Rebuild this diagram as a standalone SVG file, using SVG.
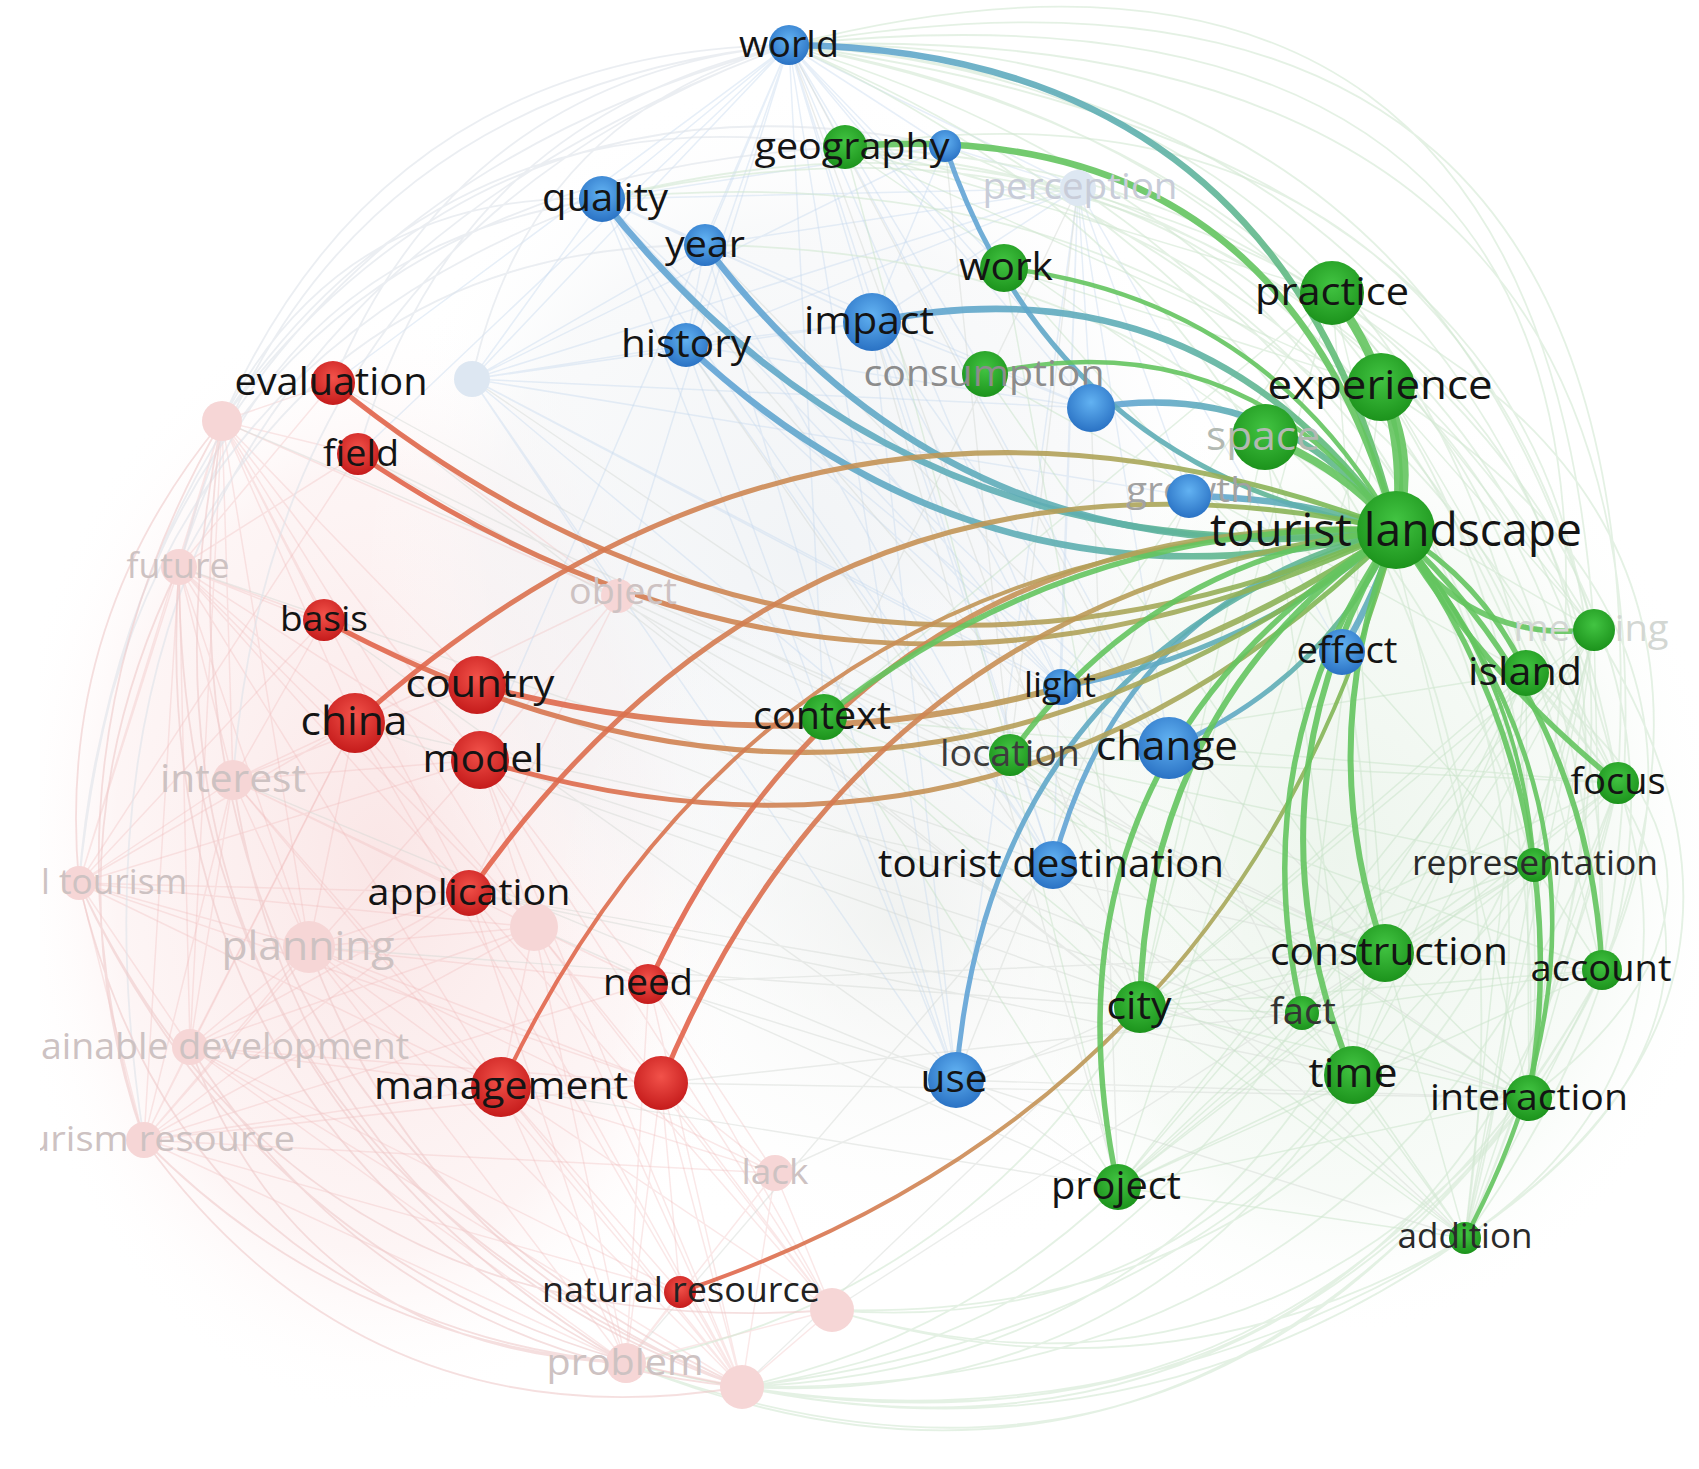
<svg xmlns="http://www.w3.org/2000/svg" width="1699" height="1469" viewBox="0 0 1699 1469">
<style>
.lbl{font-family:"Open Sans","DejaVu Sans",sans-serif;text-anchor:middle;fill:#141414}
.st{text-anchor:start}
.fd{fill:#cdc2c2}
.fb{fill:#c8ccd8}
.gy{fill:#8c8c8c}
.lg{fill:#b2b9b2}
.mp{fill:none;stroke:#efb9b9;stroke-width:1.5;opacity:0.32}
.mb{fill:none;stroke:#c2d6ee;stroke-width:1.5;opacity:0.4}
.mg{fill:none;stroke:#c4e1c4;stroke-width:1.5;opacity:0.45}
.mc{fill:none;stroke:#d3d8d3;stroke-width:1.4;opacity:0.45}
.ap{fill:none;stroke:#efcaca;stroke-width:1.8;opacity:0.6}
.ab{fill:none;stroke:#dde2ea;stroke-width:1.8;opacity:0.6}
.ag{fill:none;stroke:#d2e7d2;stroke-width:1.8;opacity:0.6}
.hb{fill:none;stroke:url(#lb);stroke-width:6.5;stroke-linecap:round;opacity:0.9}
.hr{fill:none;stroke:url(#lr);stroke-width:5;stroke-linecap:round;opacity:0.9}
.hg{fill:none;stroke:#64c45f;stroke-width:5.5;stroke-linecap:round;opacity:0.9}
.r{fill:url(#nr)}.g{fill:url(#ng)}.b{fill:url(#nb)}
.rf{fill:#f6d6d6}.bf{fill:#dde7f2}
</style>
<defs>
<clipPath id="cl"><rect x="40" y="0" width="1659" height="1469"/></clipPath>
<linearGradient id="lb" x1="0" y1="0" x2="1" y2="0"><stop offset="0" stop-color="#62a3d8"/><stop offset="0.55" stop-color="#5eafb0"/><stop offset="1" stop-color="#62c066"/></linearGradient>
<linearGradient id="lr" x1="0" y1="0" x2="1" y2="0"><stop offset="0" stop-color="#e4604a"/><stop offset="0.45" stop-color="#c98f55"/><stop offset="0.75" stop-color="#aaa75a"/><stop offset="1" stop-color="#6cbf55"/></linearGradient>
<radialGradient id="nr" cx="0.5" cy="0.38" r="0.62"><stop offset="0" stop-color="#f2524a"/><stop offset="1" stop-color="#c51b1b"/></radialGradient>
<radialGradient id="ng" cx="0.5" cy="0.38" r="0.62"><stop offset="0" stop-color="#42c442"/><stop offset="1" stop-color="#1c931c"/></radialGradient>
<radialGradient id="nb" cx="0.5" cy="0.38" r="0.62"><stop offset="0" stop-color="#62b2f2"/><stop offset="1" stop-color="#2a72c4"/></radialGradient>
<radialGradient id="hzp"><stop offset="0" stop-color="#f9e0e0" stop-opacity="0.8"/><stop offset="0.7" stop-color="#fbe9e9" stop-opacity="0.45"/><stop offset="1" stop-color="#ffffff" stop-opacity="0"/></radialGradient>
<radialGradient id="hzc"><stop offset="0" stop-color="#eef1f4" stop-opacity="0.8"/><stop offset="0.7" stop-color="#f1f3f5" stop-opacity="0.45"/><stop offset="1" stop-color="#ffffff" stop-opacity="0"/></radialGradient>
<radialGradient id="hzg"><stop offset="0" stop-color="#e9f3e9" stop-opacity="0.8"/><stop offset="0.7" stop-color="#eef6ee" stop-opacity="0.45"/><stop offset="1" stop-color="#ffffff" stop-opacity="0"/></radialGradient>
<radialGradient id="hzm"><stop offset="0" stop-color="#eef0ee" stop-opacity="0.8"/><stop offset="1" stop-color="#ffffff" stop-opacity="0"/></radialGradient>
</defs>
<rect width="1699" height="1469" fill="#ffffff"/>
<g clip-path="url(#cl)">
<g id="haze">
<ellipse cx="380" cy="860" rx="380" ry="560" fill="url(#hzp)"/>
<ellipse cx="800" cy="560" rx="440" ry="480" fill="url(#hzc)"/>
<ellipse cx="1340" cy="860" rx="390" ry="480" fill="url(#hzg)"/>
<ellipse cx="900" cy="920" rx="360" ry="360" fill="url(#hzm)"/>
</g>
<g id="connectors">
<g id="faint-links">
<path class="mp" d="M222 421L179 567M222 421L233 780M222 421L79 883M222 421L309 947M222 421L355 723M222 421L480 760M222 421L324 620M222 421L358 454M222 421L333 383M222 421L469 893M222 421L190 1047M222 421L534 927M222 421L477 685M222 421L618 596M222 421L649 983M179 567L79 883M179 567L233 780M179 567L309 947M179 567L190 1047M179 567L144 1140M179 567L355 723M179 567L480 760M179 567L469 893M179 567L324 620M179 567L358 454M179 567L534 927M179 567L501 1087M179 567L333 383M179 567L477 685"/>
<path class="mp" d="M79 883L233 780M79 883L309 947M79 883L190 1047M79 883L144 1140M79 883L355 723M79 883L469 893M79 883L501 1087M79 883L534 927M79 883L324 620M79 883L480 760M79 883L661 1083M79 883L358 454M144 1140L190 1047M144 1140L309 947M144 1140L501 1087M144 1140L680 1292M144 1140L661 1083M144 1140L469 893M144 1140L775 1173M144 1140L534 927M144 1140L233 780M144 1140L355 723M144 1140L649 983M144 1140L480 760M233 780L309 947M233 780L190 1047M233 780L469 893M233 780L355 723M233 780L480 760M233 780L534 927M233 780L501 1087M233 780L324 620M233 780L477 685"/>
<path class="mp" d="M742 1387L626 1363M742 1387L680 1292M742 1387L832 1310M742 1387L775 1173M742 1387L661 1083M742 1387L501 1087M742 1387L309 947M742 1387L190 1047M742 1387L469 893M742 1387L649 983M742 1387L534 927M742 1387L355 723M742 1387L480 760M742 1387L233 780M626 1363L680 1292M626 1363L501 1087M626 1363L661 1083M626 1363L309 947M626 1363L190 1047M626 1363L469 893M626 1363L775 1173M626 1363L832 1310M626 1363L534 927M626 1363L649 983M626 1363L144 1140M832 1310L775 1173M832 1310L661 1083M832 1310L649 983M832 1310L534 927M832 1310L501 1087M832 1310L469 893M832 1310L480 760"/>
<path class="mp" d="M309 947L190 1047M309 947L469 893M309 947L501 1087M309 947L534 927M309 947L661 1083M309 947L355 723M309 947L649 983M309 947L775 1173M190 1047L501 1087M190 1047L469 893M190 1047L534 927M190 1047L661 1083M190 1047L680 1292M190 1047L355 723M534 927L649 983M534 927L661 1083M534 927L501 1087M534 927L480 760M534 927L355 723M775 1173L661 1083M775 1173L501 1087M775 1173L649 983M680 1292L501 1087M680 1292L661 1083M618 596L333 383M618 596L480 760M618 596L355 723M618 596L469 893"/>
<path class="mb" d="M789 45L472 379M789 45L686 345M789 45L602 199M789 45L705 245M789 45L872 322M789 45L1091 408M789 45L618 596M789 45L1189 496M789 45L824 717M789 45L945 146M789 45L1078 188M789 45L1004 268M789 45L985 374M789 45L1061 687M789 45L1053 865M789 45L956 1080M789 45L1169 748M789 45L333 383M789 45L358 454M789 45L480 760"/>
<path class="mb" d="M472 379L602 199M472 379L686 345M472 379L705 245M472 379L872 322M472 379L1091 408M472 379L1078 188M472 379L945 146M472 379L1061 687M472 379L1053 865M472 379L956 1080M472 379L1189 496M472 379L1169 748M472 379L618 596M1078 188L602 199M1078 188L686 345M1078 188L705 245M1078 188L872 322M1078 188L1091 408M1078 188L1189 496M1078 188L1061 687M1078 188L1053 865M1078 188L956 1080M1078 188L1169 748M1078 188L945 146M1078 188L1342 652"/>
<path class="mb" d="M602 199L686 345M602 199L705 245M602 199L872 322M602 199L1091 408M602 199L945 146M602 199L1061 687M602 199L956 1080M602 199L1053 865M602 199L1169 748M686 345L705 245M686 345L872 322M686 345L1091 408M686 345L1061 687M686 345L1053 865M686 345L956 1080M686 345L1169 748M872 322L1091 408M872 322L1061 687M872 322L1053 865M872 322L956 1080M872 322L945 146M872 322L1169 748M705 245L872 322M705 245L1061 687M705 245L1053 865M705 245L956 1080"/>
<path class="mc" d="M333 383L1140 1007M355 723L1353 1075M480 760L1529 1098M469 893L1140 1007M477 685L1302 1013M358 454L1385 953M324 620L1118 1187M649 983L1385 953M661 1083L1302 1013M501 1087L1118 1187M618 596L1385 953M618 596L1140 1007M686 345L1140 1007M602 199L1302 1013M705 245L1385 953M872 322L1118 1187M472 379L1529 1098M1078 188L824 717M1078 188L1010 755M945 146L1010 755M789 45L1140 1007M789 45L1302 1013M1091 408L1118 1187M1189 496L956 1080M956 1080L1385 953M956 1080L1529 1098M1053 865L1465 1238M661 1083L1529 1098M649 983L1465 1238M469 893L1353 1075M355 723L1385 953M333 383L1010 755M358 454L824 717M222 421L1010 755M179 567L1053 865M233 780L956 1080M309 947L1140 1007M534 927L1118 1187M775 1173L1140 1007M832 1310L1385 953M742 1387L1140 1007M626 1363L1053 865"/>
<path class="mg" d="M1594 630L1385 953M1594 630L1302 1013M1594 630L1353 1075M1594 630L1140 1007M1594 630L1118 1187M1594 630L1529 1098M1594 630L1465 1238M1594 630L1534 865M1594 630L1602 970M1594 630L1332 293M1594 630L1381 387M1594 630L1265 437M1618 783L1385 953M1618 783L1302 1013M1618 783L1353 1075M1618 783L1140 1007M1618 783L1118 1187M1618 783L1465 1238M1618 783L1529 1098M1618 783L1526 673M1618 783L1332 293M1618 783L1010 755M1618 783L824 717M1602 970L1385 953M1602 970L1302 1013M1602 970L1140 1007M1602 970L1118 1187M1602 970L1526 673M1602 970L1534 865M1602 970L1010 755M1602 970L1465 1238"/>
<path class="mg" d="M1465 1238L1385 953M1465 1238L1302 1013M1465 1238L1140 1007M1465 1238L1118 1187M1465 1238L1353 1075M1465 1238L1534 865M1465 1238L1526 673M1465 1238L1010 755M1465 1238L824 717M1529 1098L1385 953M1529 1098L1302 1013M1529 1098L1140 1007M1529 1098L1118 1187M1529 1098L1526 673M1529 1098L1010 755M1529 1098L1332 293M1526 673L1385 953M1526 673L1302 1013M1526 673L1140 1007M1526 673L1118 1187M1526 673L1353 1075M1526 673L1010 755M1534 865L1385 953M1534 865L1140 1007M1534 865L1118 1187M1534 865L1302 1013M1534 865L1010 755"/>
<path class="mg" d="M1332 293L1385 953M1332 293L1140 1007M1332 293L1010 755M1332 293L824 717M1381 387L1302 1013M1381 387L1118 1187M1265 437L1353 1075M1265 437L1140 1007M845 147L1332 293M845 147L1381 387M845 147L1265 437M1004 268L1381 387M1004 268L1534 865M985 374L1526 673M985 374L1385 953M1004 268L1140 1007M845 147L1010 755M1385 953L1118 1187M1353 1075L1118 1187M1302 1013L1118 1187M1140 1007L1302 1013M1385 953L1140 1007M824 717L1140 1007M824 717L1118 1187M1010 755L1118 1187M824 717L1385 953M1010 755L1353 1075"/>
<path class="ab" d="M222 421Q384 50 789 45M179 567Q302 93 789 45M79 883Q144 218 789 45M333 383Q460 77 789 45M222 421Q445 83 845 147M222 421Q341 189 602 199M179 567Q272 247 602 199M233 780Q272 232 789 45M358 454Q450 119 789 45M222 421Q495 50 945 146M179 567Q343 244 705 245M472 379Q529 116 789 45M79 883Q118 371 602 199M79 883Q143 183 845 147M144 1140Q18 329 789 45"/>
<path class="ag" d="M789 45Q1415 30 1594 630M789 45Q1490 93 1618 783M789 45Q1556 191 1602 970M789 45Q1480 166 1534 865M789 45Q1568 284 1529 1098M789 45Q1588 380 1465 1238M789 45Q1391 85 1526 673M602 199Q1257 48 1594 630M845 147Q1533 274 1602 970M845 147Q1473 172 1618 783M945 146Q1595 402 1529 1098M1078 188Q1647 575 1465 1238M1078 188Q1623 390 1602 970M602 199Q1319 127 1618 783M789 45Q1457 349 1353 1075M705 245Q1347 251 1534 865"/>
<path class="ag" d="M789 45Q1766 6 1602 970M789 45Q1910 198 1465 1238M845 147Q1885 278 1465 1238M1594 630Q1823 996 1465 1238M1618 783Q1712 1068 1465 1238M1526 673Q1808 886 1529 1098M1526 673Q1834 992 1465 1238M1332 293Q1783 506 1602 970M1381 387Q1827 665 1529 1098M789 45Q1544 -148 1594 630M789 45Q1669 -109 1618 783M789 45Q1724 -56 1534 865M1332 293Q1854 702 1465 1238M845 147Q1436 53 1594 630M602 199Q1274 27 1526 673"/>
<path class="ag" d="M1465 1238Q1136 1469 742 1387M1529 1098Q1225 1487 742 1387M1529 1098Q1250 1434 832 1310M1353 1075Q1139 1409 742 1387M1602 970Q1320 1485 742 1387M1602 970Q1256 1600 626 1363M1618 783Q1396 1398 742 1387M1534 865Q1333 1324 832 1310M1465 1238Q1072 1479 626 1363M1385 953Q1198 1369 742 1387M1594 630Q1434 1308 742 1387M1118 1187Q958 1340 742 1387M1529 1098Q1162 1580 626 1363M1353 1075Q1158 1338 832 1310M1618 783Q1464 1497 742 1387M1465 1238Q1164 1413 832 1310M1302 1013Q1100 1340 742 1387M1140 1007Q960 1300 626 1363"/>
<path class="ap" d="M79 883Q181 1319 626 1363M144 1140Q367 1448 742 1387M179 567Q180 1169 742 1387M222 421Q93 1034 626 1363M233 780Q304 1238 742 1387M190 1047Q382 1353 742 1387M222 421Q24 763 144 1140M222 421Q55 622 79 883M179 567Q42 846 144 1140M179 567Q141 1112 626 1363M79 883Q277 1310 742 1387M144 1140Q343 1342 626 1363M309 947Q426 1265 742 1387M190 1047Q302 1351 626 1363M79 883Q300 1350 832 1310M222 421Q130 1094 742 1387"/>
</g>
<g id="highlight-links">
<path class="hb" d="M789 45Q1281 50 1396 530"/>
<path class="hb" d="M602 199Q907 586 1396 530"/>
<path class="hb" d="M705 245Q966 591 1396 530"/>
<path class="hb" d="M686 345Q991 631 1396 530"/>
<path class="hb" d="M872 322Q1202 255 1396 530"/>
<path class="hb" d="M1091 408Q1281 376 1396 530"/>
<path class="hb" d="M945 146Q1056 472 1396 530" style="stroke-width:5"/>
<path class="hb" d="M1189 496Q1295 497 1396 530"/>
<path class="hb" d="M1342 652Q1380 585 1396 530"/>
<path class="hb" d="M1061 687Q1250 654 1396 530" style="stroke-width:5"/>
<path class="hb" d="M1169 748Q1324 682 1396 530" style="stroke-width:5"/>
<path class="hb" d="M1053 865Q1124 594 1396 530" style="stroke-width:5"/>
<path class="hb" d="M956 1080Q989 655 1396 530" style="stroke-width:5"/>
<path class="hr" d="M333 383Q820 777 1396 530"/>
<path class="hr" d="M358 454Q855 791 1396 530"/>
<path class="hr" d="M324 620Q889 924 1396 530"/>
<path class="hr" d="M477 685Q972 815 1396 530" style="stroke-width:6"/>
<path class="hr" d="M480 760Q1006 917 1396 530"/>
<path class="hr" d="M355 723Q817 308 1396 530"/>
<path class="hr" d="M469 893Q812 404 1396 530"/>
<path class="hr" d="M649 983Q870 505 1396 530"/>
<path class="hr" d="M661 1083Q864 588 1396 530"/>
<path class="hr" d="M501 1087Q769 520 1396 530" style="stroke-width:4"/>
<path class="hr" d="M680 1292Q1242 1103 1396 530" style="stroke-width:4"/>
<path class="hg" d="M845 147Q1280 109 1396 530" style="stroke-width:6.5"/>
<path class="hg" d="M1004 268Q1267 299 1396 530" style="stroke-width:4.5"/>
<path class="hg" d="M985 374Q1242 317 1396 530" style="stroke-width:4.5"/>
<path class="hg" d="M1332 293Q1412 399 1396 530" style="stroke-width:9"/>
<path class="hg" d="M1381 387Q1418 455 1396 530" style="stroke-width:9"/>
<path class="hg" d="M1265 437Q1342 467 1396 530" style="stroke-width:8"/>
<path class="hg" d="M824 717Q1076 519 1396 530"/>
<path class="hg" d="M1010 755Q1153 556 1396 530"/>
<path class="hg" d="M1140 1007Q1145 702 1396 530" style="stroke-width:6"/>
<path class="hg" d="M1118 1187Q1027 761 1396 530"/>
<path class="hg" d="M1385 953Q1311 742 1396 530" style="stroke-width:6"/>
<path class="hg" d="M1302 1013Q1241 751 1396 530"/>
<path class="hg" d="M1353 1075Q1235 791 1396 530" style="stroke-width:6"/>
<path class="hg" d="M1529 1098Q1581 786 1396 530"/>
<path class="hg" d="M1534 865Q1521 675 1396 530" style="stroke-width:4"/>
<path class="hg" d="M1465 1238Q1669 861 1396 530" style="stroke-width:4.5"/>
<path class="hg" d="M1602 970Q1590 708 1396 530"/>
<path class="hg" d="M1618 783Q1484 676 1396 530"/>
<path class="hg" d="M1526 673Q1483 581 1396 530"/>
<path class="hg" d="M1594 630Q1463 643 1396 530"/>
</g>
</g>
<g id="nodes">
<g id="n-a1"><circle class="rf" cx="222" cy="421" r="20"/></g>
<g id="n-future"><circle class="rf" cx="179" cy="567" r="18"/><text class="lbl fd" x="178" y="578" font-size="34" textLength="103" lengthAdjust="spacingAndGlyphs">future</text></g>
<g id="n-object"><circle class="rf" cx="618" cy="596" r="17"/><text class="lbl fd" x="623" y="604" font-size="36" textLength="108" lengthAdjust="spacingAndGlyphs">object</text></g>
<g id="n-interest"><circle class="rf" cx="233" cy="780" r="20"/><text class="lbl fd" x="233" y="792" font-size="38" textLength="146" lengthAdjust="spacingAndGlyphs">interest</text></g>
<g id="n-rural-tourism"><circle class="rf" cx="79" cy="883" r="17"/><text class="lbl st fd" x="41" y="894" font-size="34" textLength="146" lengthAdjust="spacingAndGlyphs">l tourism</text></g>
<g id="n-a8"><circle class="rf" cx="534" cy="927" r="24"/></g>
<g id="n-planning"><circle class="rf" cx="309" cy="947" r="26"/><text class="lbl fd" x="308" y="960" font-size="40" textLength="173" lengthAdjust="spacingAndGlyphs">planning</text></g>
<g id="n-sustainable-development"><circle class="rf" cx="190" cy="1047" r="18"/><text class="lbl st fd" x="41" y="1059" font-size="36" textLength="368" lengthAdjust="spacingAndGlyphs">ainable development</text></g>
<g id="n-tourism-resource"><circle class="rf" cx="144" cy="1140" r="18"/><text class="lbl st fd" x="27" y="1151" font-size="34" textLength="268" lengthAdjust="spacingAndGlyphs">urism resource</text></g>
<g id="n-lack"><circle class="rf" cx="775" cy="1173" r="18"/><text class="lbl fd" x="775" y="1184" font-size="35" textLength="67" lengthAdjust="spacingAndGlyphs">lack</text></g>
<g id="n-a11"><circle class="rf" cx="832" cy="1310" r="22"/></g>
<g id="n-problem"><circle class="rf" cx="626" cy="1363" r="20"/><text class="lbl fd" x="625" y="1375" font-size="37" textLength="157" lengthAdjust="spacingAndGlyphs">problem</text></g>
<g id="n-a10"><circle class="rf" cx="742" cy="1387" r="22"/></g>
<g id="n-fb"><circle class="bf" cx="472" cy="379" r="18"/></g>
<g id="n-perception"><circle class="bf" cx="1078" cy="188" r="18"/><text class="lbl fb" x="1080" y="199" font-size="37" textLength="195" lengthAdjust="spacingAndGlyphs">perception</text></g>
<g id="n-b2"><circle class="b" cx="945" cy="146" r="16"/></g>
<g id="n-world"><circle class="b" cx="789" cy="45" r="20"/><text class="lbl" x="789" y="57" font-size="36" textLength="100" lengthAdjust="spacingAndGlyphs">world</text></g>
<g id="n-geography"><circle class="g" cx="845" cy="147" r="22"/><text class="lbl" x="852" y="159" font-size="37" textLength="195" lengthAdjust="spacingAndGlyphs">geography</text></g>
<g id="n-quality"><circle class="b" cx="602" cy="199" r="23"/><text class="lbl" x="605" y="211" font-size="38" textLength="126" lengthAdjust="spacingAndGlyphs">quality</text></g>
<g id="n-year"><circle class="b" cx="705" cy="245" r="21"/><text class="lbl" x="705" y="257" font-size="37" textLength="80" lengthAdjust="spacingAndGlyphs">year</text></g>
<g id="n-work"><circle class="g" cx="1004" cy="268" r="24"/><text class="lbl" x="1006" y="280" font-size="38" textLength="94" lengthAdjust="spacingAndGlyphs">work</text></g>
<g id="n-practice"><circle class="g" cx="1332" cy="293" r="32"/><text class="lbl" x="1332" y="305" font-size="39" textLength="154" lengthAdjust="spacingAndGlyphs">practice</text></g>
<g id="n-impact"><circle class="b" cx="872" cy="322" r="29"/><text class="lbl" x="869" y="334" font-size="39" textLength="130" lengthAdjust="spacingAndGlyphs">impact</text></g>
<g id="n-history"><circle class="b" cx="686" cy="345" r="22"/><text class="lbl" x="686" y="357" font-size="38" textLength="130" lengthAdjust="spacingAndGlyphs">history</text></g>
<g id="n-evaluation"><circle class="r" cx="333" cy="383" r="22"/><text class="lbl" x="331" y="395" font-size="38" textLength="193" lengthAdjust="spacingAndGlyphs">evaluation</text></g>
<g id="n-consumption"><circle class="g" cx="985" cy="374" r="23"/><text class="lbl gy" x="984" y="386" font-size="37" textLength="241" lengthAdjust="spacingAndGlyphs">consumption</text></g>
<g id="n-b1"><circle class="b" cx="1091" cy="408" r="24"/></g>
<g id="n-experience"><circle class="g" cx="1381" cy="387" r="34"/><text class="lbl" x="1380" y="399" font-size="41" textLength="225" lengthAdjust="spacingAndGlyphs">experience</text></g>
<g id="n-space"><circle class="g" cx="1265" cy="437" r="33"/><text class="lbl lg" x="1263" y="450" font-size="40" textLength="114" lengthAdjust="spacingAndGlyphs">space</text></g>
<g id="n-field"><circle class="r" cx="358" cy="454" r="21"/><text class="lbl" x="361" y="466" font-size="36" textLength="76" lengthAdjust="spacingAndGlyphs">field</text></g>
<g id="n-growth"><text class="lbl gy" x="1190" y="502" font-size="35" textLength="128" lengthAdjust="spacingAndGlyphs" style="fill:#a2a2a2">growth</text><circle class="b" cx="1189" cy="496" r="22"/></g>
<g id="n-meaning"><text class="lbl" x="1591" y="641" font-size="36" textLength="155" lengthAdjust="spacingAndGlyphs" style="fill:#d3d7d3">meaning</text><circle class="g" cx="1594" cy="630" r="21"/></g>
<g id="n-basis"><circle class="r" cx="324" cy="620" r="21"/><text class="lbl" x="324" y="631" font-size="35" textLength="88" lengthAdjust="spacingAndGlyphs">basis</text></g>
<g id="n-effect"><circle class="b" cx="1342" cy="652" r="23"/><text class="lbl" x="1347" y="663" font-size="37" textLength="101" lengthAdjust="spacingAndGlyphs">effect</text></g>
<g id="n-island"><circle class="g" cx="1526" cy="673" r="23"/><text class="lbl" x="1525" y="685" font-size="39" textLength="114" lengthAdjust="spacingAndGlyphs">island</text></g>
<g id="n-country"><circle class="r" cx="477" cy="685" r="29"/><text class="lbl" x="480" y="697" font-size="39" textLength="149" lengthAdjust="spacingAndGlyphs">country</text></g>
<g id="n-light"><circle class="b" cx="1061" cy="687" r="18"/><text class="lbl" x="1060" y="697" font-size="34" textLength="72" lengthAdjust="spacingAndGlyphs">light</text></g>
<g id="n-context"><circle class="g" cx="824" cy="717" r="23"/><text class="lbl" x="822" y="729" font-size="38" textLength="138" lengthAdjust="spacingAndGlyphs">context</text></g>
<g id="n-china"><circle class="r" cx="355" cy="723" r="30"/><text class="lbl" x="354" y="735" font-size="40" textLength="107" lengthAdjust="spacingAndGlyphs">china</text></g>
<g id="n-model"><circle class="r" cx="480" cy="760" r="29"/><text class="lbl" x="483" y="772" font-size="39" textLength="121" lengthAdjust="spacingAndGlyphs">model</text></g>
<g id="n-location"><circle class="g" cx="1010" cy="755" r="21"/><text class="lbl" x="1010" y="766" font-size="36" textLength="140" lengthAdjust="spacingAndGlyphs" style="fill:#3c3c3c">location</text></g>
<g id="n-change"><circle class="b" cx="1169" cy="748" r="31"/><text class="lbl" x="1167" y="760" font-size="40" textLength="142" lengthAdjust="spacingAndGlyphs">change</text></g>
<g id="n-focus"><circle class="g" cx="1618" cy="783" r="21"/><text class="lbl" x="1618" y="794" font-size="36" textLength="95" lengthAdjust="spacingAndGlyphs">focus</text></g>
<g id="n-tourist-destination"><circle class="b" cx="1053" cy="865" r="24"/><text class="lbl" x="1051" y="877" font-size="38" textLength="346" lengthAdjust="spacingAndGlyphs">tourist destination</text></g>
<g id="n-representation"><circle class="g" cx="1534" cy="865" r="17"/><text class="lbl" x="1535" y="875" font-size="34" textLength="246" lengthAdjust="spacingAndGlyphs" style="fill:#2a2a2a">representation</text></g>
<g id="n-application"><circle class="r" cx="469" cy="893" r="23"/><text class="lbl" x="469" y="905" font-size="37" textLength="203" lengthAdjust="spacingAndGlyphs">application</text></g>
<g id="n-construction"><circle class="g" cx="1385" cy="953" r="29"/><text class="lbl" x="1389" y="965" font-size="38" textLength="238" lengthAdjust="spacingAndGlyphs">construction</text></g>
<g id="n-account"><circle class="g" cx="1602" cy="970" r="20"/><text class="lbl" x="1601" y="981" font-size="36" textLength="141" lengthAdjust="spacingAndGlyphs">account</text></g>
<g id="n-need"><circle class="r" cx="648" cy="984" r="20"/><text class="lbl" x="648" y="995" font-size="36" textLength="90" lengthAdjust="spacingAndGlyphs">need</text></g>
<g id="n-city"><circle class="g" cx="1140" cy="1007" r="26"/><text class="lbl" x="1139" y="1019" font-size="39" textLength="65" lengthAdjust="spacingAndGlyphs">city</text></g>
<g id="n-fact"><circle class="g" cx="1302" cy="1013" r="17"/><text class="lbl" x="1303" y="1024" font-size="36" textLength="66" lengthAdjust="spacingAndGlyphs" style="fill:#333">fact</text></g>
<g id="n-big-red"><circle class="r" cx="661" cy="1083" r="27"/></g>
<g id="n-management"><circle class="r" cx="501" cy="1087" r="30"/><text class="lbl" x="501" y="1099" font-size="39" textLength="254" lengthAdjust="spacingAndGlyphs">management</text></g>
<g id="n-use"><circle class="b" cx="956" cy="1080" r="28"/><text class="lbl" x="954" y="1092" font-size="38" textLength="67" lengthAdjust="spacingAndGlyphs">use</text></g>
<g id="n-time"><circle class="g" cx="1353" cy="1075" r="29"/><text class="lbl" x="1353" y="1087" font-size="40" textLength="89" lengthAdjust="spacingAndGlyphs">time</text></g>
<g id="n-interaction"><circle class="g" cx="1529" cy="1098" r="23"/><text class="lbl" x="1529" y="1110" font-size="37" textLength="198" lengthAdjust="spacingAndGlyphs">interaction</text></g>
<g id="n-project"><circle class="g" cx="1118" cy="1187" r="23"/><text class="lbl" x="1116" y="1199" font-size="38" textLength="130" lengthAdjust="spacingAndGlyphs">project</text></g>
<g id="n-addition"><circle class="g" cx="1465" cy="1238" r="16"/><text class="lbl" x="1465" y="1248" font-size="34" textLength="135" lengthAdjust="spacingAndGlyphs" style="fill:#2a2a2a">addition</text></g>
<g id="n-natural-resource"><circle class="r" cx="680" cy="1292" r="16"/><text class="lbl" x="681" y="1302" font-size="34" textLength="278" lengthAdjust="spacingAndGlyphs" style="fill:#222">natural resource</text></g>
<g id="n-tourist-landscape"><circle class="g" cx="1396" cy="530" r="39"/><text class="lbl" x="1396" y="546" font-size="45" textLength="372" lengthAdjust="spacingAndGlyphs">tourist landscape</text></g>
</g>
</g>
</svg>
